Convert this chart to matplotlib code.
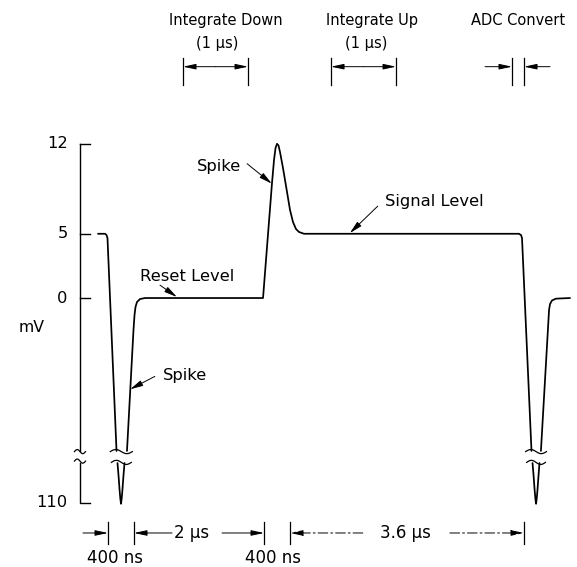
import numpy as np
import matplotlib
matplotlib.use("Agg")
import matplotlib.pyplot as plt
from matplotlib.transforms import blended_transform_factory

# ---------------- data ----------------
# waveform: time in µs, level in mV (split at the broken-axis gaps)
seg1_t = [-0.154, -0.046, -0.023, -0.008, 0.131]
seg1_mv = [5, 5, 4.90, 4.67, -11.9]
spike1_t = [0.146, 0.163, 0.178, 0.190, 0.200, 0.210, 0.222, 0.237, 0.254]
spike1_mv = [-12, -45, -78, -100, -112, -100, -78, -45, -12]
seg2_t = [0.292, 0.392, 0.408, 0.423, 0.446, 0.492, 0.569, 2.385, 2.523, 2.554,
          2.577, 2.600, 2.623, 2.646, 2.692, 2.754, 2.800, 2.846, 2.892, 2.938,
          3.015, 6.323, 6.354, 6.369, 6.515]
seg2_mv = [-11.9, -2.49, -1.32, -0.70, -0.31, -0.08, 0, 0, 8.95, 10.74,
           11.67, 12, 11.87, 11.36, 10.12, 8.25, 6.85, 5.91, 5.37, 5.14,
           5, 5, 4.90, 4.67, -11.9]
spike2_t = [6.531, 6.548, 6.563, 6.575, 6.585, 6.595, 6.607, 6.622, 6.638]
spike2_mv = [-12, -45, -78, -100, -112, -100, -78, -45, -12]
seg3_t = [6.660, 6.785, 6.800, 6.830, 6.890, 7.108]
seg3_mv = [-11.9, -0.93, -0.47, -0.19, -0.05, 0]

tick_mv = [12, 5, 0, -110]
tick_labels = ["12", "5", "0", "110"]

phase_titles = ["Integrate Down", "Integrate Up", "ADC Convert"]
phase_subs = ["(1 µs)", "(1 µs)", ""]
phase_start = [1.154, 3.431, 6.215]
phase_end = [2.154, 4.431, 6.400]

dim_bounds = [0.0, 0.4, 2.4, 2.8, 6.4]
dim_labels = ["400 ns", "2 µs", "400 ns", "3.6 µs"]

# ---------------- broken y scale ----------------
BRK_HI, BRK_LO = -11.9, -12.0     # mV on either side of the break
D_LO, K = -12.84, 0.03173         # compressed part below the break
_xp = np.array([-1000.0, BRK_LO, BRK_HI, 1000.0])
_fp = np.array([D_LO + (-1000.0 - BRK_LO) * K, D_LO, BRK_HI, 1000.0])


def fwd(v):
    return np.interp(np.asarray(v, float), _xp, _fp)


def inv(d):
    return np.interp(np.asarray(d, float), _fp, _xp)


FONT = "DejaVu Sans"
FS = 10.5        # top phase labels
FS_ANN = 11.8    # waveform annotations
FS_DIM = 12      # bottom timing labels
LW = 1.25
plt.rcParams["font.family"] = [FONT]

fig = plt.figure(figsize=(5.77, 5.67), dpi=100)
ax = fig.add_axes([0, 0, 1, 1])
ax.set_yscale("function", functions=(fwd, inv))
ax.set_xlim(-1.6615, 7.215)
ax.set_ylim(inv(-20.93), inv(23.19))
ax.axis("off")

# waveform
for t, v in [(seg1_t, seg1_mv), (spike1_t, spike1_mv), (seg2_t, seg2_mv),
             (spike2_t, spike2_mv), (seg3_t, seg3_mv)]:
    ax.plot(t, v, color="black", lw=LW, solid_joinstyle="round",
            solid_capstyle="round")

# break marks (tilde shapes) in display-level units
def squiggle(tc, half_w, d0, amp=0.16):
    u = np.linspace(-1, 1, 30)
    ax.plot(tc + u * half_w, inv(d0 - amp * np.sin(np.pi * u)),
            color="black", lw=0.9)

axis_t = -0.431
for tc, hw in [(0.205, 0.17), (6.585, 0.16)]:
    squiggle(tc, hw, fwd(BRK_HI) - 0.05)
    squiggle(tc, hw * 0.9, fwd(BRK_LO) + 0.05)
squiggle(axis_t, 0.085, fwd(BRK_HI) - 0.05)
squiggle(axis_t, 0.085, fwd(BRK_LO) + 0.15)

# y axis line with break
ax.plot([axis_t, axis_t], [tick_mv[0], BRK_HI], color="black", lw=1.0)
ax.plot([axis_t, axis_t, axis_t + 0.16], [BRK_LO, tick_mv[-1], tick_mv[-1]],
        color="black", lw=1.0)
for v in tick_mv[:-1]:
    ax.plot([axis_t, axis_t + 0.16], [v, v], color="black", lw=1.0)
for v, lab in zip(tick_mv, tick_labels):
    ax.text(axis_t - 0.19, v, lab, ha="right", va="center", fontsize=FS + 1.2)
ax.text(-1.17, -2.3, "mV", ha="center", va="center", fontsize=FS + 0.8)

# annotations
ap = dict(arrowstyle="-|>,head_length=0.7,head_width=0.16", color="black",
          lw=0.7, shrinkA=0, shrinkB=0, mutation_scale=11)
ax.text(0.49, 1.65, "Reset Level", ha="left", va="center", fontsize=FS_ANN)
ax.annotate("", xy=(1.06, 0.08), xytext=(0.80, 1.0), arrowprops=ap)
ax.text(0.85, -6.0, "Spike", ha="left", va="center", fontsize=FS_ANN)
ax.annotate("", xy=(0.34, -7.1), xytext=(0.72, -6.1), arrowprops=ap)
ax.text(1.37, 10.23, "Spike", ha="left", va="center", fontsize=FS_ANN)
ax.annotate("", xy=(2.52, 8.9), xytext=(2.14, 10.45), arrowprops=ap)
ax.text(4.26, 7.54, "Signal Level", ha="left", va="center", fontsize=FS_ANN)
ax.annotate("", xy=(3.72, 5.05), xytext=(4.15, 7.15), arrowprops=ap)

# ---------------- top phase brackets ----------------
tr = blended_transform_factory(ax.transData, ax.transAxes)
Y_TITLE, Y_SUB, Y_ARR, Y_B0, Y_B1 = 0.9647, 0.9224, 0.8824, 0.850, 0.897
title_t = [1.815, 4.057, 6.308]
sub_t = [1.677, 3.969, 6.308]
apd = dict(arrowstyle="-|>,head_length=0.7,head_width=0.15", color="black",
           lw=0.7, shrinkA=0, shrinkB=0, mutation_scale=11)
for i, (s, e) in enumerate(zip(phase_start, phase_end)):
    ax.text(title_t[i], Y_TITLE, phase_titles[i], transform=tr, ha="center",
            va="center", fontsize=FS)
    if phase_subs[i]:
        ax.text(sub_t[i], Y_SUB, phase_subs[i], transform=tr, ha="center",
                va="center", fontsize=FS)
    for x in (s, e):
        ax.plot([x, x], [Y_B0, Y_B1], transform=tr, color="black", lw=0.9)
    if e - s > 0.5:
        m = 0.5 * (s + e)
        ax.annotate("", xy=(s, Y_ARR), xytext=(m, Y_ARR), xycoords=tr,
                    textcoords=tr, arrowprops=apd)
        ax.annotate("", xy=(e, Y_ARR), xytext=(m, Y_ARR), xycoords=tr,
                    textcoords=tr, arrowprops=apd)
    else:
        ax.annotate("", xy=(s, Y_ARR), xytext=(s - 0.415, Y_ARR), xycoords=tr,
                    textcoords=tr, arrowprops=apd)
        ax.annotate("", xy=(e, Y_ARR), xytext=(e + 0.40, Y_ARR), xycoords=tr,
                    textcoords=tr, arrowprops=apd)

# ---------------- bottom timing dimensions ----------------
YD, YD0, YD1, YL = 0.0600, 0.0406, 0.0794, 0.0165
for x in dim_bounds:
    ax.plot([x, x], [YD0, YD1], transform=tr, color="black", lw=0.9)
# 400 ns (outside arrows)
ax.annotate("", xy=(dim_bounds[0], YD), xytext=(dim_bounds[0] - 0.385, YD),
            xycoords=tr, textcoords=tr, arrowprops=apd)
ax.text(0.108, YL, dim_labels[0], transform=tr, ha="center", va="center",
        fontsize=FS_DIM)
# 2 µs
ax.annotate("", xy=(dim_bounds[1], YD), xytext=(0.985, YD), xycoords=tr,
            textcoords=tr, arrowprops=apd)
ax.annotate("", xy=(dim_bounds[2], YD), xytext=(1.754, YD), xycoords=tr,
            textcoords=tr, arrowprops=apd)
ax.text(1.29, YD, dim_labels[1], transform=tr, ha="center", va="center",
        fontsize=FS_DIM)
# second 400 ns
ax.text(2.531, YL, dim_labels[2], transform=tr, ha="center", va="center",
        fontsize=FS_DIM)
# 3.6 µs (dash-dot line)
apdd = dict(apd, linestyle=(0, (10, 3, 2, 3)))
ax.annotate("", xy=(dim_bounds[3], YD), xytext=(3.92, YD), xycoords=tr,
            textcoords=tr, arrowprops=apdd)
ax.annotate("", xy=(dim_bounds[4], YD), xytext=(5.26, YD), xycoords=tr,
            textcoords=tr, arrowprops=apdd)
ax.text(4.58, YD, dim_labels[3], transform=tr, ha="center", va="center",
        fontsize=FS_DIM)

fig.savefig("out.png", dpi=100, facecolor="white")
